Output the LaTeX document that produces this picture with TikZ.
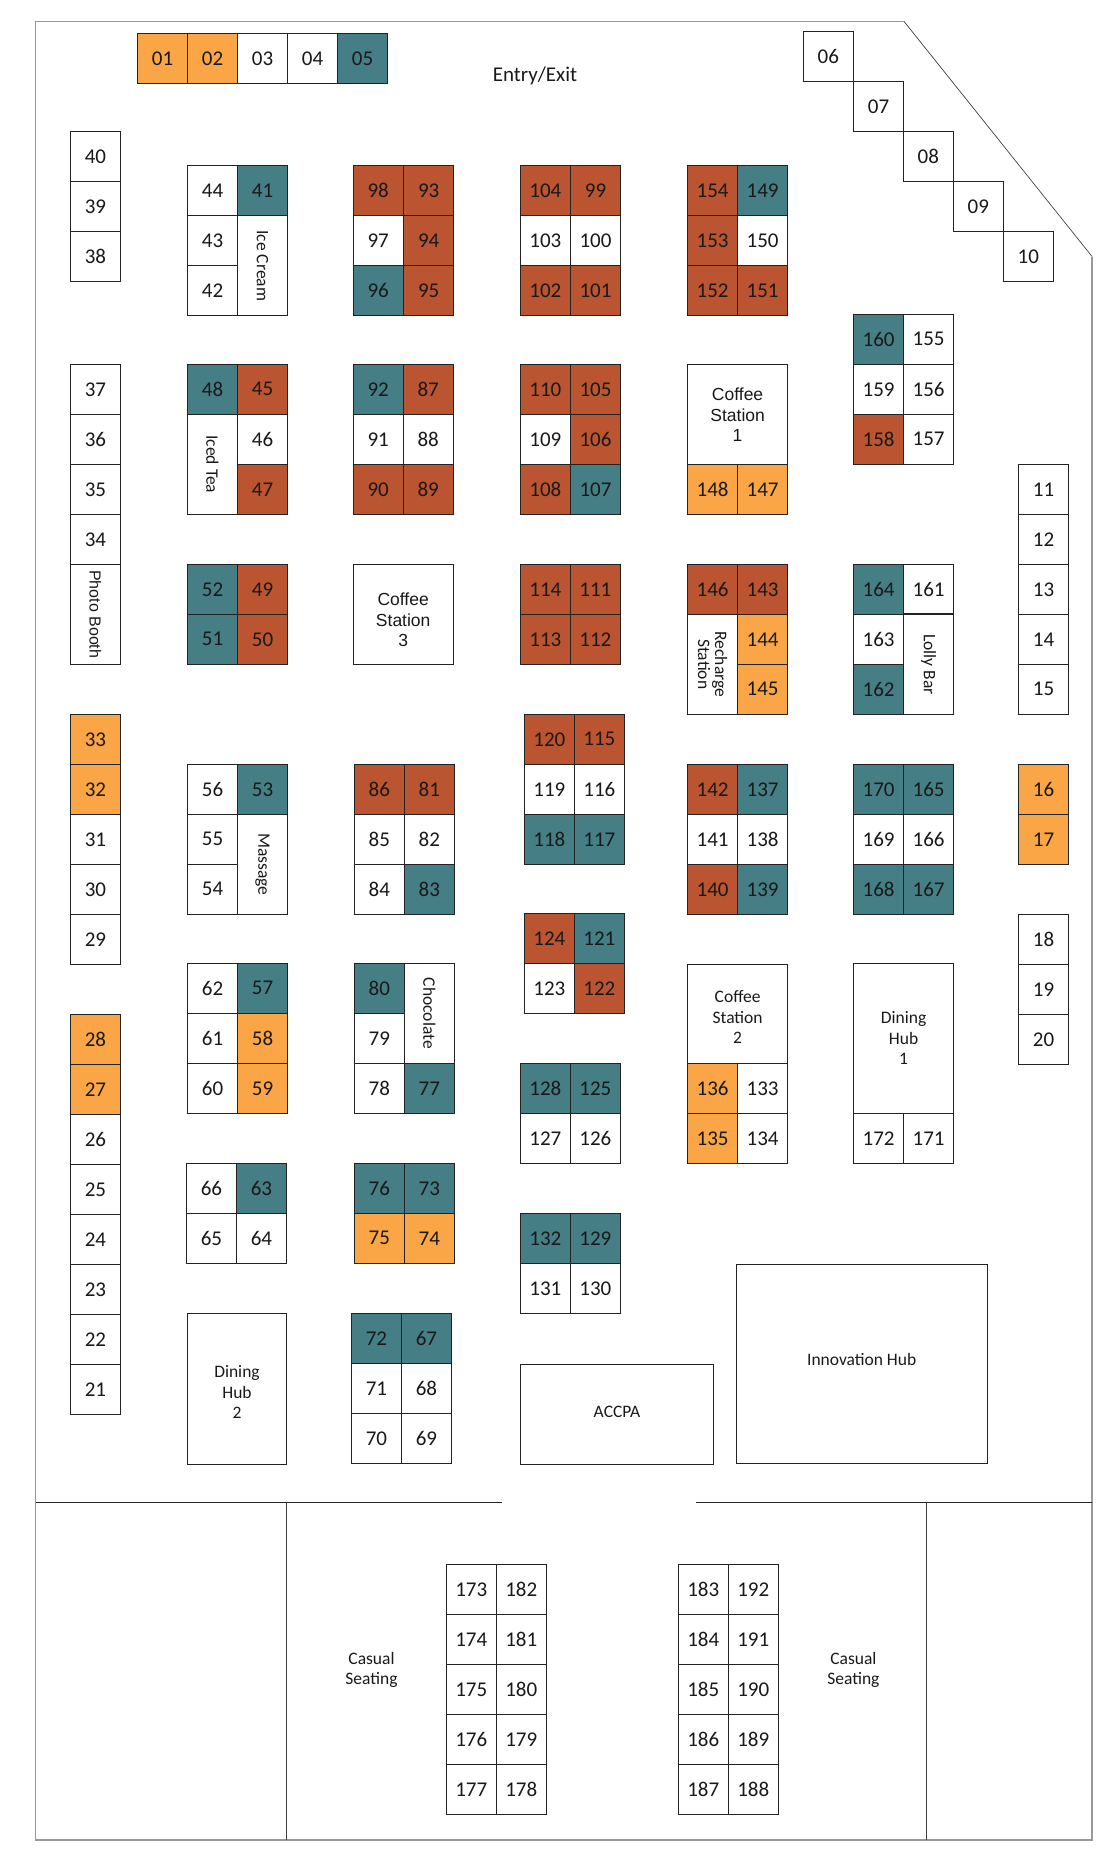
\documentclass[tikz,border=0pt]{standalone}
\usepackage{fontspec}
\setmainfont{Carlito}
\newfontfamily\arialfont{Liberation Sans}
\definecolor{boothorange}{HTML}{FAA546}
\definecolor{boothteal}{HTML}{457E85}
\definecolor{boothrust}{HTML}{BB5430}
\definecolor{boothline}{HTML}{222222}
\tikzset{
  booth/.style={draw=boothline, line width=1pt, inner sep=0pt, outer sep=0pt, minimum width=50pt, minimum height=50pt, anchor=north west, font=\fontsize{21}{24}\selectfont, text=black!90},
  room/.style={booth, font=\fontsize{17.5}{20.5}\selectfont, align=center},
  sideroom/.style={room, rotate=-90, anchor=center, minimum width=100pt, minimum height=50pt},
  roomlabel/.style={inner sep=0pt, align=center, font=\fontsize{17.5}{20.5}\selectfont, text=black!90},
  wall/.style={draw=black!40, line width=1.5pt},
  divider/.style={draw=boothline, line width=1pt},
  thinline/.style={draw=black!75, line width=0.7pt}
}
\begin{document}
\begin{tikzpicture}[x=1pt, y=-1pt]
    \useasboundingbox (0,0) rectangle (1116,1860);

    \coordinate (wallnw) at (35.7,21.4);
    \coordinate (wallcuta) at (904,21.4);
    \coordinate (wallcutb) at (1092,256.5);
    \coordinate (wallse) at (1092,1840);
    \coordinate (wallsw) at (35.7,1840);
    \draw[wall] (wallcutb) -- (wallse) -- (wallsw) -- (wallnw) -- (wallcuta);
    \draw[thinline] (wallcuta) -- (wallcutb);

    \coordinate (foyerwest) at (35.7,1502.3);
    \coordinate (foyerwestend) at (501.8,1502.3);
    \coordinate (foyereaststart) at (696,1502.3);
    \coordinate (foyereast) at (1092,1502.3);
    \draw[divider] (foyerwest) -- (foyerwestend);
    \draw[divider] (foyereaststart) -- (foyereast);
    \draw[thinline] (286,1502.3) -- (286,1840);
    \draw[thinline] (926,1502.3) -- (926,1840);

    % perimeter stands
    \foreach \n/\x/\y/\c in {01/137.5/33.4/boothorange, 02/187.5/33.4/boothorange, 03/237.5/33.4/white, 04/287.5/33.4/white, 05/337.5/33.4/boothteal,
        06/803.3/31.3/white, 07/853.5/81.3/white, 08/903.3/131.2/white, 09/953.3/181.5/white, 10/1003.3/231.4/white,
        11/1018.6/464.3/white, 12/1018.6/514.3/white, 13/1018.6/564.3/white, 14/1018.6/614.3/white, 15/1018.6/664.3/white,
        16/1018.6/764.3/boothorange, 17/1018.6/814.3/boothorange, 18/1018.6/914.3/white, 19/1018.6/964.3/white, 20/1018.6/1014.3/white,
        21/70.4/1364.3/white, 22/70.4/1314.3/white, 23/70.4/1264.3/white, 24/70.4/1214.3/white, 25/70.4/1164.3/white, 26/70.4/1114.3/white,
        27/70.4/1064.3/boothorange, 28/70.4/1014.3/boothorange,
        29/70.4/914.3/white, 30/70.4/864.3/white, 31/70.4/814.3/white, 32/70.4/764.3/boothorange, 33/70.4/714.3/boothorange,
        34/70.4/514.3/white, 35/70.4/464.3/white, 36/70.4/414.3/white, 37/70.4/364.3/white,
        38/70.4/231.3/white, 39/70.4/181.3/white, 40/70.4/131.3/white}
        \node[booth, fill=\c] (b\n) at (\x,\y) {\n};

    % first aisle
    \foreach \n/\x/\y/\c in {44/187.5/165.5/white, 41/237.5/165.5/boothteal, 43/187.5/215.7/white, 42/187.5/265.9/white,
        48/187.5/364.3/boothteal, 45/237.5/364.3/boothrust, 46/237.5/414.3/white, 47/237.5/464.3/boothrust,
        52/187.5/564.3/boothteal, 49/237.5/564.3/boothrust, 51/187.5/614.3/boothteal, 50/237.5/614.3/boothrust,
        56/187.5/764.3/white, 53/237.5/764.3/boothteal, 55/187.5/814.3/white, 54/187.5/864.3/white,
        62/187.5/963.3/white, 57/237.5/963.3/boothteal, 61/187.5/1013.3/white, 58/237.5/1013.3/boothorange, 60/187.5/1063.3/white, 59/237.5/1063.3/boothorange,
        66/186.4/1163.3/white, 63/236.4/1163.3/boothteal, 65/186.4/1213.3/white, 64/236.4/1213.3/white}
        \node[booth, fill=\c] (b\n) at (\x,\y) {\n};

    % second aisle
    \foreach \n/\x/\y/\c in {98/353.2/165.5/boothrust, 93/403.7/165.5/boothrust, 97/353.2/215.7/white, 94/403.7/215.7/boothrust, 96/353.2/265.9/boothteal, 95/403.7/265.9/boothrust,
        92/353.2/364.3/boothteal, 87/403.2/364.3/boothrust, 91/353.2/414.3/white, 88/403.2/414.3/white, 90/353.2/464.3/boothrust, 89/403.2/464.3/boothrust,
        86/354.3/764.3/boothrust, 81/404.3/764.3/boothrust, 85/354.3/814.3/white, 82/404.3/814.3/white, 84/354.3/864.3/white, 83/404.3/864.3/boothteal,
        80/354.3/963.3/boothteal, 79/354.3/1013.3/white, 78/354.3/1063.3/white, 77/404.3/1063.3/boothteal,
        76/354.3/1163.3/boothteal, 73/404.3/1163.3/boothteal, 75/354.3/1213.3/boothorange, 74/404.3/1213.3/boothorange,
        72/351.4/1313.8/boothteal, 67/401.4/1313.8/boothteal, 71/351.4/1363.8/white, 68/401.4/1363.8/white, 70/351.4/1413.8/white, 69/401.4/1413.8/white}
        \node[booth, fill=\c] (b\n) at (\x,\y) {\n};

    % third aisle
    \foreach \n/\x/\y/\c in {104/520.4/165.5/boothrust, 99/570.5/165.5/boothrust, 103/520.4/215.7/white, 100/570.5/215.7/white, 102/520.4/265.9/boothrust, 101/570.5/265.9/boothrust,
        110/520.4/364.3/boothrust, 105/570.5/364.3/boothrust, 109/520.4/414.3/white, 106/570.5/414.3/boothrust, 108/520.4/464.3/boothrust, 107/570.5/464.3/boothteal,
        114/520.4/564.3/boothrust, 111/570.4/564.3/boothrust, 113/520.4/614.3/boothrust, 112/570.4/614.3/boothrust,
        120/524.4/714.3/boothrust, 115/574.4/714.3/boothrust, 119/524.4/764.3/white, 116/574.4/764.3/white, 118/524.4/814.3/boothteal, 117/574.4/814.3/boothteal,
        124/524.4/913.3/boothrust, 121/574.4/913.3/boothteal, 123/524.4/963.3/white, 122/574.4/963.3/boothrust,
        128/520.4/1063.3/boothteal, 125/570.4/1063.3/boothteal, 127/520.4/1113.3/white, 126/570.4/1113.3/white,
        132/520.4/1213.3/boothteal, 129/570.4/1213.3/boothteal, 131/520.4/1263.3/white, 130/570.4/1263.3/white}
        \node[booth, fill=\c] (b\n) at (\x,\y) {\n};

    % fourth aisle
    \foreach \n/\x/\y/\c in {154/687.6/165.5/boothrust, 149/737.6/165.5/boothteal, 153/687.6/215.7/boothrust, 150/737.6/215.7/white, 152/687.6/265.9/boothrust, 151/737.6/265.9/boothrust,
        148/687.6/464.3/boothorange, 147/737.6/464.3/boothorange,
        146/687.6/564.3/boothrust, 143/737.6/564.3/boothrust, 144/737.6/614.3/boothorange, 145/737.6/664.3/boothorange,
        142/687.6/764.3/boothrust, 137/737.6/764.3/boothteal, 141/687.6/814.3/white, 138/737.6/814.3/white, 140/687.6/864.3/boothrust, 139/737.6/864.3/boothteal,
        136/687.6/1063.3/boothorange, 133/737.6/1063.3/white, 135/687.6/1113.3/boothorange, 134/737.6/1113.3/white}
        \node[booth, fill=\c] (b\n) at (\x,\y) {\n};

    % fifth aisle
    \foreach \n/\x/\y/\c in {160/853.6/314.3/boothteal, 155/903.6/314.3/white, 159/853.6/364.3/white, 156/903.6/364.3/white, 158/853.6/414.3/boothrust, 157/903.6/414.3/white,
        164/853.6/564.3/boothteal, 161/903.6/564.3/white, 163/853.6/614.3/white, 162/853.6/664.3/boothteal,
        170/853.6/764.3/boothteal, 165/903.6/764.3/boothteal, 169/853.6/814.3/white, 166/903.6/814.3/white, 168/853.6/864.3/boothteal, 167/903.6/864.3/boothteal,
        172/853.6/1113.3/white, 171/903.6/1113.3/white}
        \node[booth, fill=\c] (b\n) at (\x,\y) {\n};

    % seating
    \foreach \a/\b/\y in {173/182/1564.3, 174/181/1614.3, 175/180/1664.3, 176/179/1714.3, 177/178/1764.3} {
        \node[booth] (b\a) at (446.3,\y) {\a};
        \node[booth] (b\b) at (496.3,\y) {\b};
    }
    \foreach \a/\b/\y in {183/192/1564.3, 184/191/1614.3, 185/190/1664.3, 186/189/1714.3, 187/188/1764.3} {
        \node[booth] (b\a) at (678.3,\y) {\a};
        \node[booth] (b\b) at (728.3,\y) {\b};
    }

    % stands that read sideways
    \node[sideroom, minimum width=100pt] (icecream) at (262.5,265.7) {Ice Cream};
    \node[sideroom] (icedtea) at (212.5,464.3) {Iced Tea};
    \node[sideroom, font=\arialfont\fontsize{16}{19}\selectfont] (photobooth) at (95.4,614.3) {Photo Booth};
    \node[sideroom, font=\fontsize{17.5}{17}\selectfont] (recharge) at (712.6,664.3) {Recharge\\Station};
    \node[sideroom] (lollybar) at (928.6,664.3) {Lolly Bar};
    \node[sideroom] (massage) at (262.5,864.3) {Massage};
    \node[sideroom] (chocolate) at (429.3,1013.3) {Chocolate};
    \draw[line width=2pt, draw=boothline] (b161.south west) -- (b161.south east);

    % rooms
    \foreach \n/\x/\y/\w/\h in {coffeeone/687.6/364.3/100/100, coffeethree/353.2/564.3/100/100, coffeetwo/687.6/964.3/100/99,
        diningone/853.6/963.3/100/150, diningtwo/187.5/1313.3/99/151, accpa/520.4/1364.3/193.4/100, innovation/736.5/1264.3/251/199}
        \node[room, minimum width=\w pt, minimum height=\h pt] (\n) at (\x,\y) {};

    \foreach \n/\x/\y/\t in {coffeeonetext/737.6/415/{\arialfont Coffee\\\arialfont Station\\\arialfont 1},
        coffeethreetext/403.2/620/{\arialfont Coffee\\\arialfont Station\\\arialfont 3},
        coffeetwotext/737.6/1017/{Coffee\\Station\\2},
        diningonetext/903.6/1038/{Dining\\Hub\\1},
        diningtwotext/237/1392/{Dining\\Hub\\2},
        accpatext/617/1412/{ACCPA},
        innovationtext/861.7/1359/{Innovation Hub},
        casualwest/371.5/1670/{Casual\\Seating},
        casualeast/853.4/1670/{Casual\\Seating}}
        \node[roomlabel] (\n) at (\x,\y) {\t};

    \node[roomlabel, font=\fontsize{21}{24}\selectfont] (entry) at (535,75.7) {Entry/Exit};
\end{tikzpicture}
\end{document}
